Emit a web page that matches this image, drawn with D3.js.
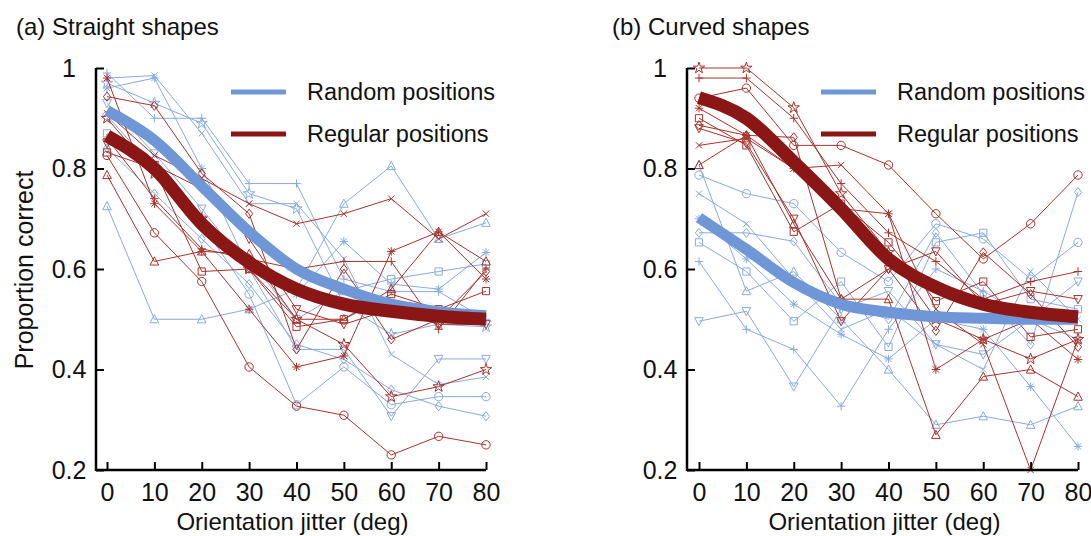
<!DOCTYPE html>
<html>
<head>
<meta charset="utf-8">
<script src="https://cdn.jsdelivr.net/npm/d3@7"></script>
<style>
  body { margin: 0; background: #fff; }
  text { font-family: "Liberation Sans", Arial, sans-serif; fill: #111; }
</style>
</head>
<body>
<div class="chart"></div>
<script>
(function () {

	// jitter levels (deg) and y ticks
	var jitter = [0, 10, 20, 30, 40, 50, 60, 70, 80];
	var yTicks = [0.2, 0.4, 0.6, 0.8, 1];
	var markers = ["+", "x", "*", "o", "s", "d", "^", "v", "p"];

	// (a) straight shapes, one row per observer
	var straightRandom = [
		[0.99, 0.90, 0.90, 0.77, 0.77, 0.58, 0.555, 0.555, 0.50],
		[0.98, 0.985, 0.87, 0.73, 0.73, 0.62, 0.43, 0.37, 0.385],
		[0.96, 0.98, 0.80, 0.60, 0.55, 0.655, 0.57, 0.56, 0.633],
		[0.905, 0.80, 0.69, 0.55, 0.33, 0.405, 0.33, 0.346, 0.346],
		[0.87, 0.80, 0.70, 0.62, 0.50, 0.556, 0.58, 0.595, 0.61],
		[0.84, 0.75, 0.66, 0.57, 0.45, 0.42, 0.36, 0.327, 0.307],
		[0.725, 0.50, 0.50, 0.52, 0.56, 0.73, 0.805, 0.66, 0.692],
		[0.93, 0.83, 0.72, 0.60, 0.44, 0.44, 0.307, 0.421, 0.421],
		[0.97, 0.93, 0.89, 0.75, 0.72, 0.53, 0.47, 0.49, 0.485]
	];
	var straightRegular = [
		[0.86, 0.74, 0.64, 0.62, 0.60, 0.615, 0.615, 0.48, 0.60],
		[0.91, 0.826, 0.78, 0.73, 0.69, 0.71, 0.74, 0.66, 0.71],
		[0.98, 0.73, 0.635, 0.52, 0.405, 0.427, 0.635, 0.674, 0.58],
		[0.826, 0.672, 0.575, 0.405, 0.327, 0.309, 0.23, 0.267, 0.25],
		[0.832, 0.80, 0.595, 0.60, 0.485, 0.50, 0.55, 0.52, 0.556],
		[0.943, 0.925, 0.79, 0.71, 0.44, 0.60, 0.46, 0.50, 0.595],
		[0.787, 0.615, 0.635, 0.63, 0.50, 0.50, 0.56, 0.674, 0.615],
		[0.85, 0.807, 0.76, 0.66, 0.52, 0.49, 0.52, 0.49, 0.49],
		[0.90, 0.79, 0.70, 0.60, 0.50, 0.45, 0.346, 0.366, 0.40]
	];
	var straightRandomFit = [0.915, 0.856, 0.765, 0.674, 0.60, 0.56, 0.53, 0.515, 0.507];
	var straightRegularFit = [0.865, 0.80, 0.69, 0.613, 0.56, 0.53, 0.516, 0.506, 0.50];

	// (b) curved shapes
	var curvedRandom = [
		[0.615, 0.48, 0.44, 0.327, 0.48, 0.60, 0.556, 0.50, 0.46],
		[0.75, 0.69, 0.58, 0.48, 0.52, 0.45, 0.40, 0.595, 0.50],
		[0.70, 0.62, 0.53, 0.47, 0.421, 0.50, 0.48, 0.366, 0.247],
		[0.787, 0.75, 0.73, 0.633, 0.575, 0.69, 0.66, 0.58, 0.653],
		[0.653, 0.595, 0.496, 0.575, 0.445, 0.653, 0.672, 0.54, 0.52],
		[0.672, 0.672, 0.655, 0.53, 0.50, 0.672, 0.55, 0.45, 0.753],
		[0.807, 0.556, 0.595, 0.50, 0.40, 0.29, 0.307, 0.29, 0.327],
		[0.496, 0.516, 0.366, 0.52, 0.556, 0.45, 0.43, 0.50, 0.575]
	];
	var curvedRegular = [
		[0.98, 0.98, 0.90, 0.77, 0.672, 0.615, 0.54, 0.575, 0.595],
		[0.846, 0.86, 0.80, 0.807, 0.71, 0.52, 0.45, 0.20, 0.46],
		[0.92, 0.866, 0.80, 0.72, 0.71, 0.40, 0.46, 0.50, 0.42],
		[0.94, 0.96, 0.846, 0.846, 0.807, 0.71, 0.62, 0.69, 0.787],
		[0.90, 0.846, 0.674, 0.73, 0.653, 0.536, 0.575, 0.465, 0.48],
		[0.886, 0.866, 0.862, 0.54, 0.60, 0.477, 0.633, 0.55, 0.445],
		[0.807, 0.866, 0.69, 0.54, 0.54, 0.27, 0.386, 0.40, 0.346],
		[0.88, 0.85, 0.70, 0.496, 0.60, 0.635, 0.53, 0.556, 0.54],
		[1.00, 1.00, 0.921, 0.75, 0.633, 0.50, 0.46, 0.421, 0.46]
	];
	var curvedRandomFit = [0.702, 0.639, 0.573, 0.53, 0.514, 0.505, 0.502, 0.50, 0.50];
	var curvedRegularFit = [0.941, 0.90, 0.813, 0.72, 0.62, 0.564, 0.53, 0.514, 0.505];

	var legendLabels = ["Random positions", "Regular positions"];

	var blueThin = "#89abdf", blueThick = "#6f96d6",
	    redThin = "#a8342c", redThick = "#8a1616";

	var svg = d3.select(".chart").append("svg")
		.attr("width", 1091)
		.attr("height", 536);

	// outline marker shapes like matlab's
	function markerPath(m) {
		var r = 4.2;
		switch (m) {
			case "+": return "M" + -r + ",0H" + r + "M0," + -r + "V" + r;
			case "x": var a = r * 0.75; return "M" + -a + "," + -a + "L" + a + "," + a + "M" + -a + "," + a + "L" + a + "," + -a;
			case "*": var b = r * 0.75; return "M" + -r + ",0H" + r + "M0," + -r + "V" + r +
				"M" + -b + "," + -b + "L" + b + "," + b + "M" + -b + "," + b + "L" + b + "," + -b;
			case "o": return d3.symbol(d3.symbolCircle, 55)();
			case "s": return "M-3.6,-3.6H3.6V3.6H-3.6Z";
			case "d": return "M0,-4.6L3.6,0L0,4.6L-3.6,0Z";
			case "^": return "M0,-4.6L4.3,3.6H-4.3Z";
			case "v": return "M0,4.6L4.3,-3.6H-4.3Z";
			case "p": return d3.symbol(d3.symbolStar, 40)();
		}
	}

	function drawPanel(p) {
		var g = svg.append("g");
		var x = d3.scaleLinear().domain([0, 80]).range([p.x0, p.x1]);
		var y = d3.scaleLinear().domain([0.2, 1]).range([470, 68]);

		var line = d3.line()
			.x(function (d, i) { return x(jitter[i]); })
			.y(function (d) { return y(d); });
		var smooth = d3.line()
			.curve(d3.curveMonotoneX)
			.x(function (d, i) { return x(jitter[i]); })
			.y(function (d) { return y(d); });

		function subjects(rows, color) {
			rows.forEach(function (row, k) {
				g.append("path")
					.attr("d", line(row))
					.attr("fill", "none")
					.attr("stroke", color)
					.attr("stroke-width", 1);
				g.selectAll(null)
					.data(row)
					.enter().append("path")
					.attr("transform", function (d, i) { return "translate(" + x(jitter[i]) + "," + y(d) + ")"; })
					.attr("d", markerPath(markers[k % markers.length]))
					.attr("fill", "none")
					.attr("stroke", color)
					.attr("stroke-width", 1);
			});
		}
		subjects(p.random, blueThin);
		subjects(p.regular, redThin);

		g.append("path").attr("d", smooth(p.randomFit))
			.attr("fill", "none").attr("stroke", blueThick).attr("stroke-width", 11);
		g.append("path").attr("d", smooth(p.regularFit))
			.attr("fill", "none").attr("stroke", redThick).attr("stroke-width", 13);

		// axes, ticks pointing inward
		var yAxis = g.append("g")
			.attr("transform", "translate(" + p.axisX + ",0)")
			.call(d3.axisLeft(y).tickValues(yTicks).tickSizeInner(-8).tickSizeOuter(0)
				.tickFormat(function (d) { return d === 1 ? "1" : d3.format(".1f")(d); }));
		yAxis.select(".domain").attr("stroke", "#000").attr("stroke-width", 2.5)
			.attr("d", "M0," + 68 + "V" + 471);
		yAxis.selectAll(".tick line").attr("stroke", "#000").attr("stroke-width", 2);
		yAxis.selectAll(".tick text")
			.attr("x", -27)
			.attr("text-anchor", "middle")
			.attr("font-size", 25)
			.attr("font-family", "Liberation Sans, Arial, sans-serif")
			.attr("fill", "#111");

		var xAxis = g.append("g")
			.attr("transform", "translate(0,470)")
			.call(d3.axisBottom(x).tickValues(jitter).tickSizeInner(-8).tickSizeOuter(0).tickPadding(13));
		xAxis.select(".domain").attr("stroke", "#000").attr("stroke-width", 2.5)
			.attr("d", "M" + p.axisX + ",0H" + p.x1);
		xAxis.selectAll(".tick line").attr("stroke", "#000").attr("stroke-width", 2);
		xAxis.selectAll(".tick text")
			.attr("font-size", 25)
			.attr("font-family", "Liberation Sans, Arial, sans-serif")
			.attr("fill", "#111");

		g.append("text")
			.attr("x", (p.x0 + p.x1) / 2 - 4)
			.attr("y", 530)
			.attr("text-anchor", "middle")
			.attr("font-size", 24)
			.text("Orientation jitter (deg)");

		g.append("text")
			.attr("x", p.titleX)
			.attr("y", 35)
			.attr("font-size", 24)
			.text(p.title);

		// legend
		[blueThick, redThick].forEach(function (c, i) {
			var ly = 92 + i * 42;
			g.append("line")
				.attr("x1", p.legendX).attr("x2", p.legendX + 55)
				.attr("y1", ly).attr("y2", ly)
				.attr("stroke", c).attr("stroke-width", 5);
			g.append("text")
				.attr("x", p.legendX + 76)
				.attr("y", ly + 8)
				.attr("font-size", 23.5)
				.text(legendLabels[i]);
		});
	}

	drawPanel({
		title: "(a) Straight shapes", titleX: 16,
		axisX: 96, x0: 107, x1: 486, legendX: 231,
		random: straightRandom, regular: straightRegular,
		randomFit: straightRandomFit, regularFit: straightRegularFit
	});
	drawPanel({
		title: "(b) Curved shapes", titleX: 612,
		axisX: 687, x0: 699, x1: 1078, legendX: 821,
		random: curvedRandom, regular: curvedRegular,
		randomFit: curvedRandomFit, regularFit: curvedRegularFit
	});

	svg.append("text")
		.attr("transform", "translate(33,270) rotate(-90)")
		.attr("text-anchor", "middle")
		.attr("font-size", 25)
		.text("Proportion correct");

})();
</script>
</body>
</html>
